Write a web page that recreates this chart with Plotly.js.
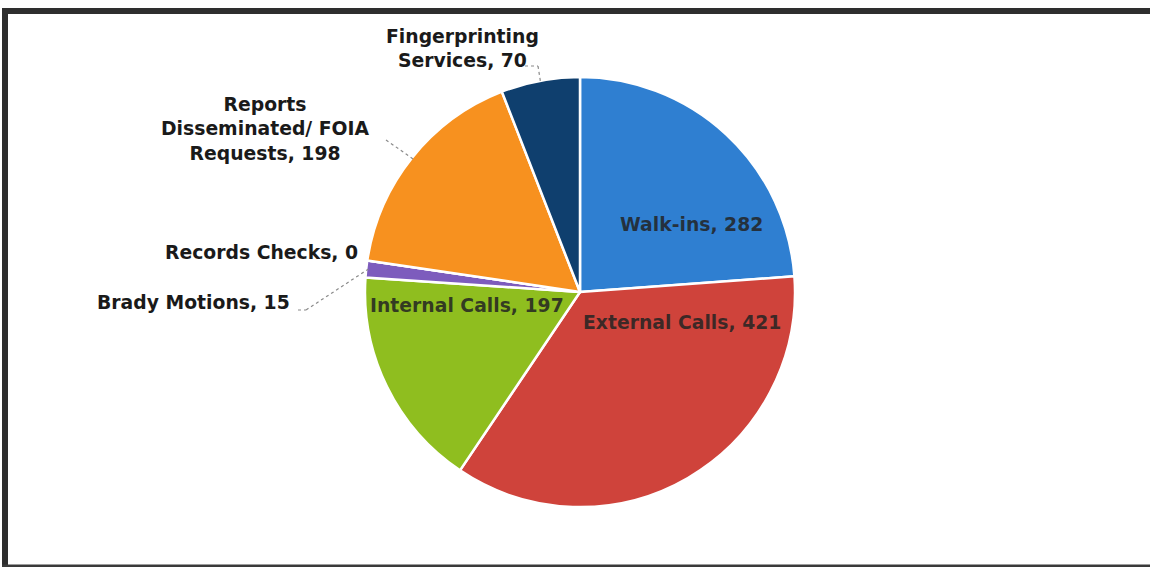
<!DOCTYPE html>
<html>
<head>
<meta charset="utf-8">
<script src="https://cdn.plot.ly/plotly-3.0.1.min.js"></script>
<style>html,body{margin:0;padding:0;background:#fff;}#chart{width:1150px;height:567px;}</style>
</head>
<body>
<div id="chart"></div>
<script>
const categories = ["Walk-ins", "External Calls", "Internal Calls", "Brady Motions", "Records Checks", "Reports<br>Disseminated/ FOIA<br>Requests", "Fingerprinting<br>Services"];
const values = [282, 421, 197, 15, 0, 198, 70];
const colors = ["#2f7fd1", "#cf433b", "#8fbe1f", "#7d5cbd", "#8c8c8c", "#f7911f", "#0f3f6e"];

const W = 1150, H = 567;
const cx = 580, cy = 292, R = 215;
const domX = [(cx - R) / W, (cx + R) / W];
const domY = [(H - cy - R) / H, (H - cy + R) / H];

const total = values.reduce((a, b) => a + b, 0);
function midAngle(i) {
  let before = 0;
  for (let k = 0; k < i; k++) before += values[k];
  return (before + values[i] / 2) / total * 2 * Math.PI; // clockwise from top
}
function edge(i, r) {
  const a = midAngle(i);
  return [cx + r * Math.sin(a), cy - r * Math.cos(a)];
}
const px = x => x / W, py = y => 1 - y / H;
const txt = i => categories[i] + ", " + values[i];

const FAM = "DejaVu Sans, sans-serif";
const labelFont = {family: FAM, size: 18.8, color: "#1a1a1a", weight: 700};
const innerFont = {family: FAM, size: 18.8, color: "rgba(35,35,35,0.85)", weight: 700};

const labelPos = [
  {x: 692, y: 224, xa: "center", f: innerFont},
  {x: 682, y: 322, xa: "center", f: innerFont},
  {x: 467, y: 305, xa: "center", f: innerFont},
  {x: 292, y: 302, xa: "right", f: labelFont},
  {x: 360, y: 252, xa: "right", f: labelFont},
  {x: 265, y: 129, xa: "center", f: labelFont},
  {x: 462, y: 49, xa: "center", f: labelFont}
];
const annotations = labelPos.map((p, i) => ({
  xref: "paper", yref: "paper", x: px(p.x), y: py(p.y),
  xanchor: p.xa, yanchor: "middle", showarrow: false, align: "center",
  text: txt(i), font: p.f
}));

// leader lines
const leaders = [
  {i: 6, from: [[519, 66], [538, 66]]},
  {i: 5, from: [[386, 140]]},
  {i: 3, from: [[298, 310], [306, 310]]}
];
const shapes = [];
leaders.forEach(l => {
  const pts = l.from.concat([edge(l.i, R - 2)]);
  for (let k = 0; k < pts.length - 1; k++) {
    shapes.push({type: "line", xref: "paper", yref: "paper",
      x0: px(pts[k][0]), y0: py(pts[k][1]), x1: px(pts[k + 1][0]), y1: py(pts[k + 1][1]),
      line: {color: "#8a8a8a", width: 1.2, dash: "dot"}});
  }
});
// frame
shapes.push({type: "line", xref: "paper", yref: "paper", x0: px(2), x1: 1, y0: py(11), y1: py(11), line: {color: "#2e2e2e", width: 6}});
shapes.push({type: "line", xref: "paper", yref: "paper", x0: px(5), x1: px(5), y0: py(9), y1: py(567), line: {color: "#2e2e2e", width: 6}});
shapes.push({type: "line", xref: "paper", yref: "paper", x0: px(2), x1: 1, y0: py(566), y1: py(566), line: {color: "#3a3a3a", width: 3}});

const trace = {
  type: "pie", labels: categories, values: values, sort: false,
  direction: "clockwise", rotation: 0,
  marker: {colors: colors, line: {color: "#ffffff", width: 2.5}},
  textinfo: "none", hoverinfo: "label+value", showlegend: false,
  domain: {x: domX, y: domY}
};
const layout = {
  width: W, height: H, margin: {l: 0, r: 0, t: 0, b: 0},
  paper_bgcolor: "#ffffff", plot_bgcolor: "#ffffff",
  annotations: annotations, shapes: shapes, showlegend: false
};
Plotly.newPlot("chart", [trace], layout, {displayModeBar: false, staticPlot: true});
</script>
</body>
</html>
